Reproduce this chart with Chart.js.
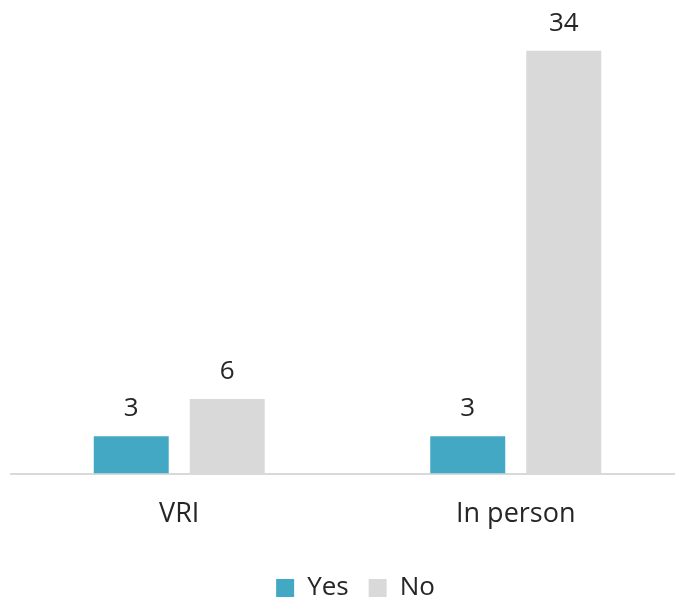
<!DOCTYPE html>
<html>
<head>
<meta charset="utf-8">
<script src="https://cdn.jsdelivr.net/npm/chart.js@4"></script>
<style>
  html, body { margin: 0; padding: 0; background: #ffffff; overflow: hidden; }
  #wrap { width: 684px; height: 615px; position: relative; }
</style>
</head>
<body>
<div id="wrap"><canvas id="c"></canvas></div>
<script>
const categories = ["VRI", "In person"];
const seriesNames = ["Yes", "No"];
const yesValues = [3, 3];
const noValues = [6, 34];

const FONT = "'Open Sans', 'Noto Sans', sans-serif";
const TEXT = "#262626";

const valueLabels = {
  id: "valueLabels",
  afterLayout(chart) {
    if (chart.legend) { chart.legend.left += 8; chart.legend.right += 8; }
  },
  afterDatasetsDraw(chart) {
    const ctx = chart.ctx;
    ctx.save();
    ctx.font = "26px " + FONT;
    ctx.fillStyle = TEXT;
    ctx.textAlign = "center";
    ctx.textBaseline = "alphabetic";
    chart.data.datasets.forEach((ds, i) => {
      chart.getDatasetMeta(i).data.forEach((el, j) => {
        ctx.fillText(String(ds.data[j]), el.x, el.y - 20);
      });
    });
    ctx.restore();
  }
};

new Chart(document.getElementById("c"), {
  type: "bar",
  data: {
    labels: categories,
    datasets: [
      { label: seriesNames[0], data: yesValues, backgroundColor: "#43A8C4", borderWidth: 0,
        categoryPercentage: 0.5706, barPercentage: 0.781 },
      { label: seriesNames[1], data: noValues, backgroundColor: "#D9D9D9", borderWidth: 0,
        categoryPercentage: 0.5706, barPercentage: 0.781 }
    ]
  },
  options: {
    responsive: true,
    maintainAspectRatio: false,
    animation: false,
    layout: { padding: { left: 11, right: 0, top: 1, bottom: 4 } },
    plugins: {
      legend: {
        position: "bottom",
        labels: { font: { family: FONT, size: 26 }, color: TEXT, boxWidth: 18, boxHeight: 18, padding: 20 }
      },
      tooltip: { enabled: false }
    },
    scales: {
      x: {
        grid: { display: false },
        border: { display: true, color: "#D9D9D9", width: 2 },
        ticks: { font: { family: FONT, size: 27 }, color: TEXT, padding: 17 },
        afterFit(scale) { scale.height += 7; }
      },
      y: { display: false, min: 0, max: 38 }
    }
  },
  plugins: [valueLabels]
});
</script>
</body>
</html>
